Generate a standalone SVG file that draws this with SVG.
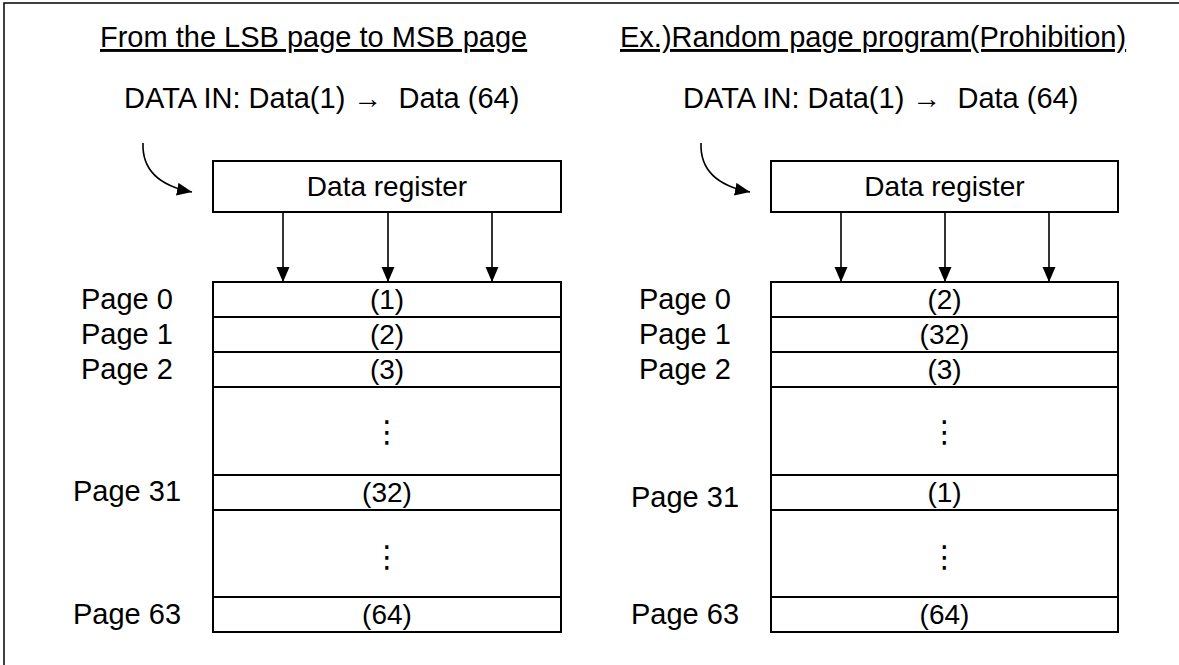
<svg xmlns="http://www.w3.org/2000/svg" width="1179" height="665" viewBox="0 0 1179 665">
<style>
.t{font-family:"Liberation Sans",Arial,sans-serif;font-size:28px;fill:#000}
.l{font-size:29px}
.c{text-anchor:middle}
.u{text-decoration:underline}
.box{fill:#fff;stroke:#000;stroke-width:2}
.ln{stroke:#000;stroke-width:2;fill:none}
.con{stroke:#000;stroke-width:1.6;fill:none}
.dots{font-family:"DejaVu Sans",sans-serif;font-size:30px;text-anchor:middle;fill:#000}
</style>
<defs>
<marker id="ah" markerUnits="userSpaceOnUse" markerWidth="16" markerHeight="14" refX="15" refY="6.5" orient="auto">
<path d="M0,0 L15,6.5 L0,13 Z" fill="#000"/>
</marker>
</defs>
<rect width="1179" height="665" fill="#fff"/>
<path d="M4,665 V3 H1179" fill="none" stroke="#000" stroke-width="1.5"/>

<g id="left-title"><text class="t l u" x="100" y="47">From the LSB page to MSB page</text></g>
<g id="left-datain"><text class="t l" x="124" y="108" xml:space="preserve">DATA IN: Data(1) →  Data (64)</text></g>
<g id="right-title"><text class="t l u" x="620" y="47">Ex.)Random page program(Prohibition)</text></g>
<g id="right-datain"><text class="t l" x="683" y="108" xml:space="preserve">DATA IN: Data(1) →  Data (64)</text></g>

<g id="left-register">
<rect class="box" x="213" y="161" width="348" height="51"/>
<text class="t c" x="387" y="196">Data register</text>
</g>
<g id="right-register">
<rect class="box" x="771" y="161" width="347" height="51"/>
<text class="t c" x="944.5" y="196">Data register</text>
</g>

<g id="left-pages">
<rect class="box" x="213" y="282" width="348" height="350"/>
<path class="ln" d="M213,317H561M213,352H561M213,387H561M213,475H561M213,510H561M213,597H561"/>
<text class="t c" x="387" y="309">(1)</text>
<text class="t c" x="387" y="344">(2)</text>
<text class="t c" x="387" y="379">(3)</text>
<text class="dots" x="387" y="442">⋮</text>
<text class="t c" x="387" y="502">(32)</text>
<text class="dots" x="387" y="567">⋮</text>
<text class="t c" x="387" y="624">(64)</text>
</g>
<g id="left-labels">
<text class="t l" x="81" y="309">Page 0</text>
<text class="t l" x="81" y="344">Page 1</text>
<text class="t l" x="81" y="379">Page 2</text>
<text class="t l" x="73" y="501">Page 31</text>
<text class="t l" x="73" y="624">Page 63</text>
</g>

<g id="right-pages">
<rect class="box" x="771" y="282" width="347" height="350"/>
<path class="ln" d="M771,317H1118M771,352H1118M771,387H1118M771,475H1118M771,510H1118M771,597H1118"/>
<text class="t c" x="944.5" y="309">(2)</text>
<text class="t c" x="944.5" y="344">(32)</text>
<text class="t c" x="944.5" y="379">(3)</text>
<text class="dots" x="944.5" y="442">⋮</text>
<text class="t c" x="944.5" y="502">(1)</text>
<text class="dots" x="944.5" y="567">⋮</text>
<text class="t c" x="944.5" y="624">(64)</text>
</g>
<g id="right-labels">
<text class="t l" x="639" y="309">Page 0</text>
<text class="t l" x="639" y="344">Page 1</text>
<text class="t l" x="639" y="379">Page 2</text>
<text class="t l" x="631" y="507">Page 31</text>
<text class="t l" x="631" y="624">Page 63</text>
</g>

<g id="connectors">
<path class="con" d="M143,143 C142,170 160,186 192,192" marker-end="url(#ah)"/>
<path class="con" d="M701,143 C700,170 718,186 750,192" marker-end="url(#ah)"/>
<line class="con" x1="283" y1="212" x2="283" y2="282" marker-end="url(#ah)"/>
<line class="con" x1="388" y1="212" x2="388" y2="282" marker-end="url(#ah)"/>
<line class="con" x1="492" y1="212" x2="492" y2="282" marker-end="url(#ah)"/>
<line class="con" x1="841" y1="212" x2="841" y2="282" marker-end="url(#ah)"/>
<line class="con" x1="945" y1="212" x2="945" y2="282" marker-end="url(#ah)"/>
<line class="con" x1="1049" y1="212" x2="1049" y2="282" marker-end="url(#ah)"/>
</g>
</svg>
